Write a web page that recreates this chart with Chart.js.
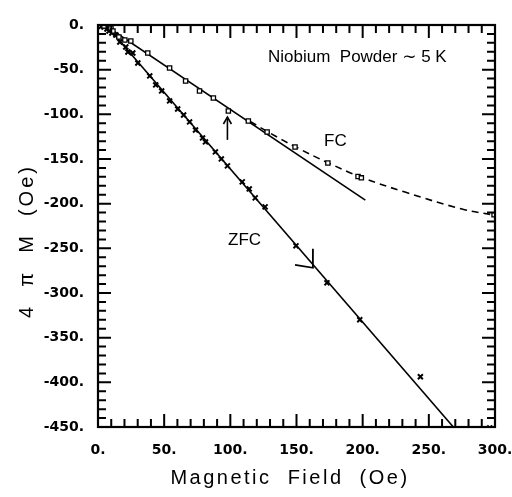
<!DOCTYPE html>
<html>
<head>
<meta charset="utf-8">
<script src="https://cdn.jsdelivr.net/npm/chart.js@4.4.0/dist/chart.umd.min.js"></script>
<style>
html, body { margin: 0; padding: 0; background: #fff; }
#wrap { width: 512px; height: 497px; }
</style>
</head>
<body>
<div id="wrap"><canvas id="chart" width="512" height="497"></canvas></div>
<script>
// field-cooled points (squares)
const fcField = [4.5, 9.8, 11.3, 15.8, 20.3, 24.8, 37.6, 54.1, 66.2, 76.7, 87.2, 98.5, 113.6, 127.8, 148.9, 173.7, 196.5, 199.0, 299.3];
const fcMoment = [-1.1, -3.4, -6.7, -13.4, -16.8, -17.9, -31.3, -48.1, -62.6, -73.8, -81.7, -96.2, -107.4, -119.7, -136.5, -154.4, -169.5, -171.1, -212.5];

// zero-field-cooled points (crosses)
const zfcField = [2.5, 4.5, 6.8, 8.3, 10.5, 13.5, 16.5, 21.0, 22.6, 26.3, 30.1, 39.1, 43.6, 48.1, 54.1, 60.2, 64.7, 69.2, 73.7, 79.0, 81.2, 88.7, 93.2, 97.8, 109.0, 114.3, 118.8, 126.3, 149.6, 173.0, 197.8, 243.6, 296.0];
const zfcMoment = [-1.5, -2.2, -4.5, -6.7, -9.0, -11.2, -19.0, -24.6, -30.2, -31.3, -42.5, -57.0, -67.1, -73.8, -85.0, -94.0, -100.7, -108.5, -117.5, -126.4, -130.9, -142.1, -149.9, -157.7, -175.6, -183.5, -193.5, -203.6, -247.2, -288.6, -330.0, -393.7, -451.0];

// straight fits and the dashed FC curve
const fcFitField = [5, 202];
const fcFitMoment = [0, -196];
const fcCurveField = [115, 130, 150, 175, 200, 232, 275, 300];
const fcCurveMoment = [-108, -121, -137, -155, -171, -187, -206, -213];
const zfcFitField = [6, 268.5];
const zfcFitMoment = [0, -450];

// little marks drawn on the plot
const kinkField = [148.9, 162.4, 162.4];
const kinkMoment = [-268.5, -271.8, -250.6];
const arrowField = [97.8, 97.8];
const arrowMoment = [-128.6, -103];

const xMajorTicks = [0, 50, 100, 150, 200, 250, 300];
const yMajorTicks = [0, -50, -100, -150, -200, -250, -300, -350, -400, -450];

const pts = (xs, ys) => xs.map((x, i) => ({ x: x, y: ys[i] }));

const framePlugin = {
    id: 'frame',
    afterDraw(chart) {
        const ctx = chart.ctx;
        const a = chart.chartArea;
        const xs = chart.scales.x;
        const ys = chart.scales.y;
        ctx.save();
        ctx.strokeStyle = '#000';
        ctx.lineWidth = 2.2;
        ctx.strokeRect(a.left, a.top, a.right - a.left, a.bottom - a.top);

        // inward ticks, long at the labelled values
        ctx.lineWidth = 2;
        for (let v = 0; v <= 300; v += 10) {
            const px = xs.getPixelForValue(v);
            const len = v % 50 === 0 ? 13 : 8;
            ctx.beginPath();
            ctx.moveTo(px, a.bottom);
            ctx.lineTo(px, a.bottom - len);
            ctx.moveTo(px, a.top);
            ctx.lineTo(px, a.top + len);
            ctx.stroke();
        }
        for (let v = 0; v >= -450; v -= 10) {
            const py = ys.getPixelForValue(v);
            const len = v % 50 === 0 ? 13 : 8;
            ctx.beginPath();
            ctx.moveTo(a.left, py);
            ctx.lineTo(a.left + len, py);
            ctx.moveTo(a.right, py);
            ctx.lineTo(a.right - len, py);
            ctx.stroke();
        }

        // arrow head on the little arrow near 100 Oe
        const ax = xs.getPixelForValue(arrowField[1]);
        const ay = ys.getPixelForValue(arrowMoment[1]);
        ctx.lineWidth = 1.6;
        ctx.beginPath();
        ctx.moveTo(ax - 4, ay + 7);
        ctx.lineTo(ax, ay);
        ctx.lineTo(ax + 4, ay + 7);
        ctx.stroke();

        // texts
        ctx.fillStyle = '#000';
        ctx.textBaseline = 'middle';
        ctx.textAlign = 'left';
        ctx.font = '17px "Liberation Sans", "DejaVu Sans", sans-serif';
        ctx.fillText('Niobium  Powder \u223C 5 K', 268, 57);
        ctx.fillText('FC', 324, 141);
        ctx.fillText('ZFC', 228, 240);

        ctx.textAlign = 'center';
        ctx.font = '20px "Liberation Sans", "DejaVu Sans", sans-serif';
        ctx.letterSpacing = '2.5px';
        ctx.fillText('Magnetic  Field  (Oe)', 290, 478);
        ctx.translate(27, 241);
        ctx.rotate(-Math.PI / 2);
        ctx.font = '20px "Liberation Sans", "DejaVu Sans", sans-serif';
        ctx.letterSpacing = '3px';
        ctx.fillText('4  \u03C0  M  (Oe)', 0, 0);
        ctx.restore();
    }
};

new Chart(document.getElementById('chart'), {
    type: 'scatter',
    data: {
        datasets: [
            {
                data: pts(fcField, fcMoment),
                pointStyle: 'rect',
                pointRadius: 3,
                pointBorderWidth: 1.3,
                borderColor: '#000',
                backgroundColor: '#fff'
            },
            {
                data: pts(zfcField, zfcMoment),
                pointStyle: 'crossRot',
                pointRadius: 3.5,
                pointBorderWidth: 2,
                borderColor: '#000'
            },
            {
                data: pts(fcFitField, fcFitMoment),
                showLine: true,
                pointRadius: 0,
                borderColor: '#000',
                borderWidth: 1.6
            },
            {
                data: pts(fcCurveField, fcCurveMoment),
                showLine: true,
                pointRadius: 0,
                borderColor: '#000',
                borderWidth: 1.6,
                borderDash: [7, 5],
                tension: 0.4
            },
            {
                data: pts(zfcFitField, zfcFitMoment),
                showLine: true,
                pointRadius: 0,
                borderColor: '#000',
                borderWidth: 1.6
            },
            {
                data: pts(kinkField, kinkMoment),
                showLine: true,
                pointRadius: 0,
                borderColor: '#000',
                borderWidth: 1.8
            },
            {
                data: pts(arrowField, arrowMoment),
                showLine: true,
                pointRadius: 0,
                borderColor: '#000',
                borderWidth: 1.6
            }
        ]
    },
    options: {
        responsive: false,
        animation: false,
        layout: { padding: { left: 0, right: 17, top: 25, bottom: 0 } },
        plugins: { legend: { display: false }, tooltip: { enabled: false } },
        scales: {
            x: {
                type: 'linear',
                min: 0,
                max: 300,
                afterFit: s => { s.height = 70; s.paddingLeft = 0; s.paddingRight = 0; },
                afterBuildTicks: s => { s.ticks = xMajorTicks.map(v => ({ value: v })); },
                grid: { display: false },
                border: { display: false },
                ticks: {
                    padding: 7,
                    color: '#000',
                    maxRotation: 0,
                    font: { family: 'DejaVu Sans', weight: 'bold', size: 14 },
                    callback: v => v + '.'
                }
            },
            y: {
                type: 'linear',
                min: -450,
                max: 0,
                afterFit: s => { s.width = 98; s.paddingTop = 0; s.paddingBottom = 0; },
                afterBuildTicks: s => { s.ticks = yMajorTicks.map(v => ({ value: v })); },
                grid: { display: false },
                border: { display: false },
                ticks: {
                    padding: 6,
                    color: '#000',
                    font: { family: 'DejaVu Sans', weight: 'bold', size: 14 },
                    callback: v => v + '.'
                }
            }
        }
    },
    plugins: [framePlugin]
});
</script>
</body>
</html>
